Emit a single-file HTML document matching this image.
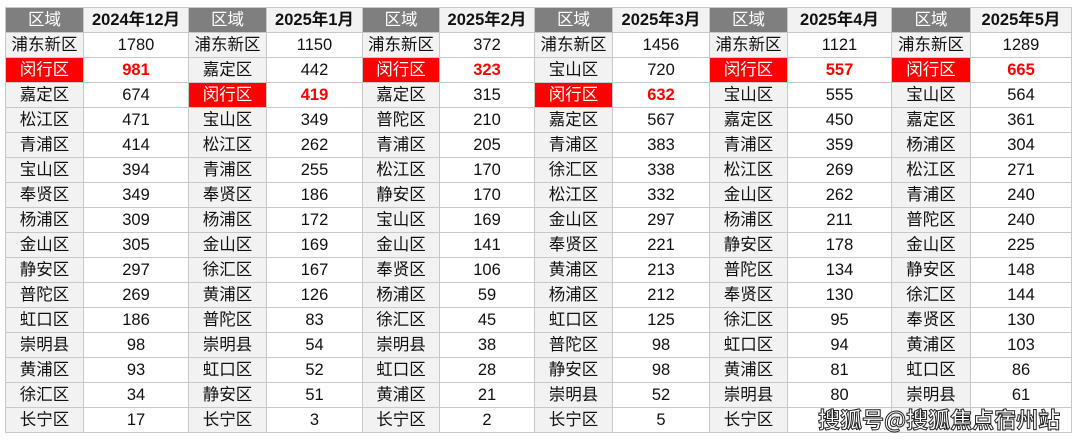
<!DOCTYPE html>
<html><head><meta charset="utf-8"><style>
html,body{margin:0;padding:0;background:#fff;width:1080px;height:442px;overflow:hidden;position:relative}
table{position:absolute;left:5px;top:7px;border-collapse:collapse;table-layout:fixed;font-family:"Liberation Sans","Noto Sans CJK SC",sans-serif;font-size:16.5px;color:#111}
tr{height:25px}
tr.h{height:25px}
td{border:1px solid #c8c8c8;padding:0;text-align:center;line-height:18px;white-space:nowrap;overflow:hidden}
tr.h td{font-weight:bold;font-size:16.5px;background:#f2f2f2}
tr.h td.r{background:#7f7f7f;color:#fff;font-weight:normal}
td.r{background:#f2f2f2}
td.v{background:#fff}
td.m{background:#ff0000;color:#fff}
td.mv{color:#ff0000;font-weight:bold}
.wm{position:absolute;left:818px;top:403px;font-family:"Noto Sans CJK SC",sans-serif;font-size:22px;font-weight:bold;color:#fff;-webkit-text-stroke:1px #222}
</style></head><body>
<table>
<colgroup><col style="width:78px"><col style="width:105px"><col style="width:78px"><col style="width:96px"><col style="width:77px"><col style="width:95px"><col style="width:78px"><col style="width:97px"><col style="width:78px"><col style="width:104px"><col style="width:79px"><col style="width:101px"></colgroup>
<tr class="h"><td class="r">区域</td><td>2024年12月</td><td class="r">区域</td><td>2025年1月</td><td class="r">区域</td><td>2025年2月</td><td class="r">区域</td><td>2025年3月</td><td class="r">区域</td><td>2025年4月</td><td class="r">区域</td><td>2025年5月</td></tr>
<tr><td class="r">浦东新区</td><td class="v">1780</td><td class="r">浦东新区</td><td class="v">1150</td><td class="r">浦东新区</td><td class="v">372</td><td class="r">浦东新区</td><td class="v">1456</td><td class="r">浦东新区</td><td class="v">1121</td><td class="r">浦东新区</td><td class="v">1289</td></tr>
<tr><td class="m">闵行区</td><td class="v mv">981</td><td class="r">嘉定区</td><td class="v">442</td><td class="m">闵行区</td><td class="v mv">323</td><td class="r">宝山区</td><td class="v">720</td><td class="m">闵行区</td><td class="v mv">557</td><td class="m">闵行区</td><td class="v mv">665</td></tr>
<tr><td class="r">嘉定区</td><td class="v">674</td><td class="m">闵行区</td><td class="v mv">419</td><td class="r">嘉定区</td><td class="v">315</td><td class="m">闵行区</td><td class="v mv">632</td><td class="r">宝山区</td><td class="v">555</td><td class="r">宝山区</td><td class="v">564</td></tr>
<tr><td class="r">松江区</td><td class="v">471</td><td class="r">宝山区</td><td class="v">349</td><td class="r">普陀区</td><td class="v">210</td><td class="r">嘉定区</td><td class="v">567</td><td class="r">嘉定区</td><td class="v">450</td><td class="r">嘉定区</td><td class="v">361</td></tr>
<tr><td class="r">青浦区</td><td class="v">414</td><td class="r">松江区</td><td class="v">262</td><td class="r">青浦区</td><td class="v">205</td><td class="r">青浦区</td><td class="v">383</td><td class="r">青浦区</td><td class="v">359</td><td class="r">杨浦区</td><td class="v">304</td></tr>
<tr><td class="r">宝山区</td><td class="v">394</td><td class="r">青浦区</td><td class="v">255</td><td class="r">松江区</td><td class="v">170</td><td class="r">徐汇区</td><td class="v">338</td><td class="r">松江区</td><td class="v">269</td><td class="r">松江区</td><td class="v">271</td></tr>
<tr><td class="r">奉贤区</td><td class="v">349</td><td class="r">奉贤区</td><td class="v">186</td><td class="r">静安区</td><td class="v">170</td><td class="r">松江区</td><td class="v">332</td><td class="r">金山区</td><td class="v">262</td><td class="r">青浦区</td><td class="v">240</td></tr>
<tr><td class="r">杨浦区</td><td class="v">309</td><td class="r">杨浦区</td><td class="v">172</td><td class="r">宝山区</td><td class="v">169</td><td class="r">金山区</td><td class="v">297</td><td class="r">杨浦区</td><td class="v">211</td><td class="r">普陀区</td><td class="v">240</td></tr>
<tr><td class="r">金山区</td><td class="v">305</td><td class="r">金山区</td><td class="v">169</td><td class="r">金山区</td><td class="v">141</td><td class="r">奉贤区</td><td class="v">221</td><td class="r">静安区</td><td class="v">178</td><td class="r">金山区</td><td class="v">225</td></tr>
<tr><td class="r">静安区</td><td class="v">297</td><td class="r">徐汇区</td><td class="v">167</td><td class="r">奉贤区</td><td class="v">106</td><td class="r">黄浦区</td><td class="v">213</td><td class="r">普陀区</td><td class="v">134</td><td class="r">静安区</td><td class="v">148</td></tr>
<tr><td class="r">普陀区</td><td class="v">269</td><td class="r">黄浦区</td><td class="v">126</td><td class="r">杨浦区</td><td class="v">59</td><td class="r">杨浦区</td><td class="v">212</td><td class="r">奉贤区</td><td class="v">130</td><td class="r">徐汇区</td><td class="v">144</td></tr>
<tr><td class="r">虹口区</td><td class="v">186</td><td class="r">普陀区</td><td class="v">83</td><td class="r">徐汇区</td><td class="v">45</td><td class="r">虹口区</td><td class="v">125</td><td class="r">徐汇区</td><td class="v">95</td><td class="r">奉贤区</td><td class="v">130</td></tr>
<tr><td class="r">崇明县</td><td class="v">98</td><td class="r">崇明县</td><td class="v">54</td><td class="r">崇明县</td><td class="v">38</td><td class="r">普陀区</td><td class="v">98</td><td class="r">虹口区</td><td class="v">94</td><td class="r">黄浦区</td><td class="v">103</td></tr>
<tr><td class="r">黄浦区</td><td class="v">93</td><td class="r">虹口区</td><td class="v">52</td><td class="r">虹口区</td><td class="v">28</td><td class="r">静安区</td><td class="v">98</td><td class="r">黄浦区</td><td class="v">81</td><td class="r">虹口区</td><td class="v">86</td></tr>
<tr><td class="r">徐汇区</td><td class="v">34</td><td class="r">静安区</td><td class="v">51</td><td class="r">黄浦区</td><td class="v">21</td><td class="r">崇明县</td><td class="v">52</td><td class="r">崇明县</td><td class="v">80</td><td class="r">崇明县</td><td class="v">61</td></tr>
<tr><td class="r">长宁区</td><td class="v">17</td><td class="r">长宁区</td><td class="v">3</td><td class="r">长宁区</td><td class="v">2</td><td class="r">长宁区</td><td class="v">5</td><td class="r">长宁区</td><td class="v"></td><td class="r"></td><td class="v"></td></tr>
</table>
<div class="wm">搜狐号@搜狐焦点宿州站</div>
</body></html>
